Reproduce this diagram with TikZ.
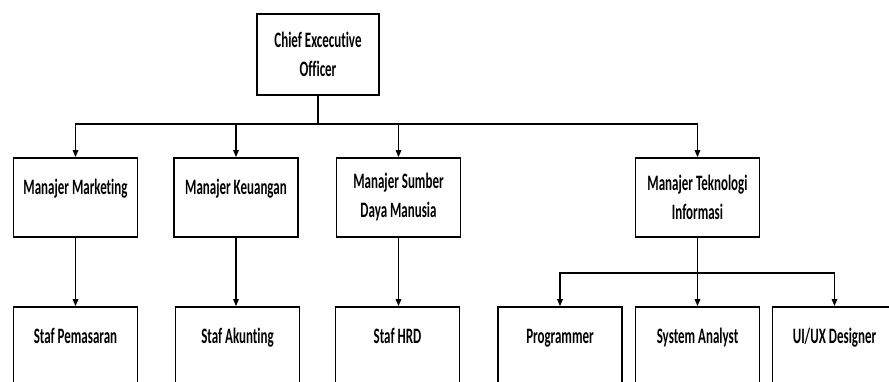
\documentclass[tikz,border=0pt]{standalone}
\usepackage{fontspec}
\setmainfont{Carlito}[FakeStretch=0.59, Ligatures=NoCommon]
\usepackage{tikz}
\usetikzlibrary{arrows.meta,positioning}

\begin{document}
\begin{tikzpicture}[x=1pt, y=-1pt,
    box/.style={draw, line width=1.7pt, minimum width=124pt, minimum height=79pt,
        inner sep=0pt, align=center, font=\fontsize{22}{29}\selectfont\bfseries},
    oneline/.style={text height=15pt, text depth=22pt},
    conn/.style={line width=1.4pt, -{Triangle[length=7pt, width=5.5pt]}},
    link/.style={line width=1.4pt}]
    % Page
    \useasboundingbox (0,0) rectangle (889,381);
    \clip (0,0) rectangle (889,381);

    % Top
    \node[box, minimum width=122pt, minimum height=81pt] (ceo) at (318,54.5) {Chief Excecutive\\Officer};

    % Managers
    \node[box, oneline] (mkt) at (75.5,197.5) {Manajer Marketing};
    \node[box, oneline] (keu) at (236,197.5) {Manajer Keuangan};
    \node[box] (sdm) at (398.5,197.5) {Manajer Sumber\\Daya Manusia};
    \node[box] (ti) at (697.5,197.5) {Manajer Teknologi\\Informasi};

    % Staff
    \node[box, oneline] (pem) at (75.5,346.5) {Staf Pemasaran};
    \node[box, oneline] (aku) at (237.5,346.5) {Staf Akunting};
    \node[box, oneline] (hrd) at (397.5,346.5) {Staf HRD};
    \node[box, oneline] (prog) at (560,346.5) {Programmer};
    \node[box, oneline] (sa) at (697.5,346.5) {System Analyst};
    \node[box, oneline] (ux) at (834.5,346.5) {UI/UX Designer};

    % Connectors
    \draw[link] (ceo.south) -- ++(0,28) coordinate (bus);
    \foreach \m in {mkt,keu,sdm,ti}
        \draw[conn] (bus) -| (\m.north);

    \draw[conn] (mkt.south) -- (mkt.south |- pem.north);
    \draw[conn] (keu.south) -- (keu.south |- aku.north);
    \draw[conn] (sdm.south) -- (sdm.south |- hrd.north);

    \draw[link] (ti.south) -- ++(0,35) coordinate (tibus);
    \foreach \s in {prog,sa,ux}
        \draw[conn] (tibus) -| (\s.north);
\end{tikzpicture}
\end{document}
